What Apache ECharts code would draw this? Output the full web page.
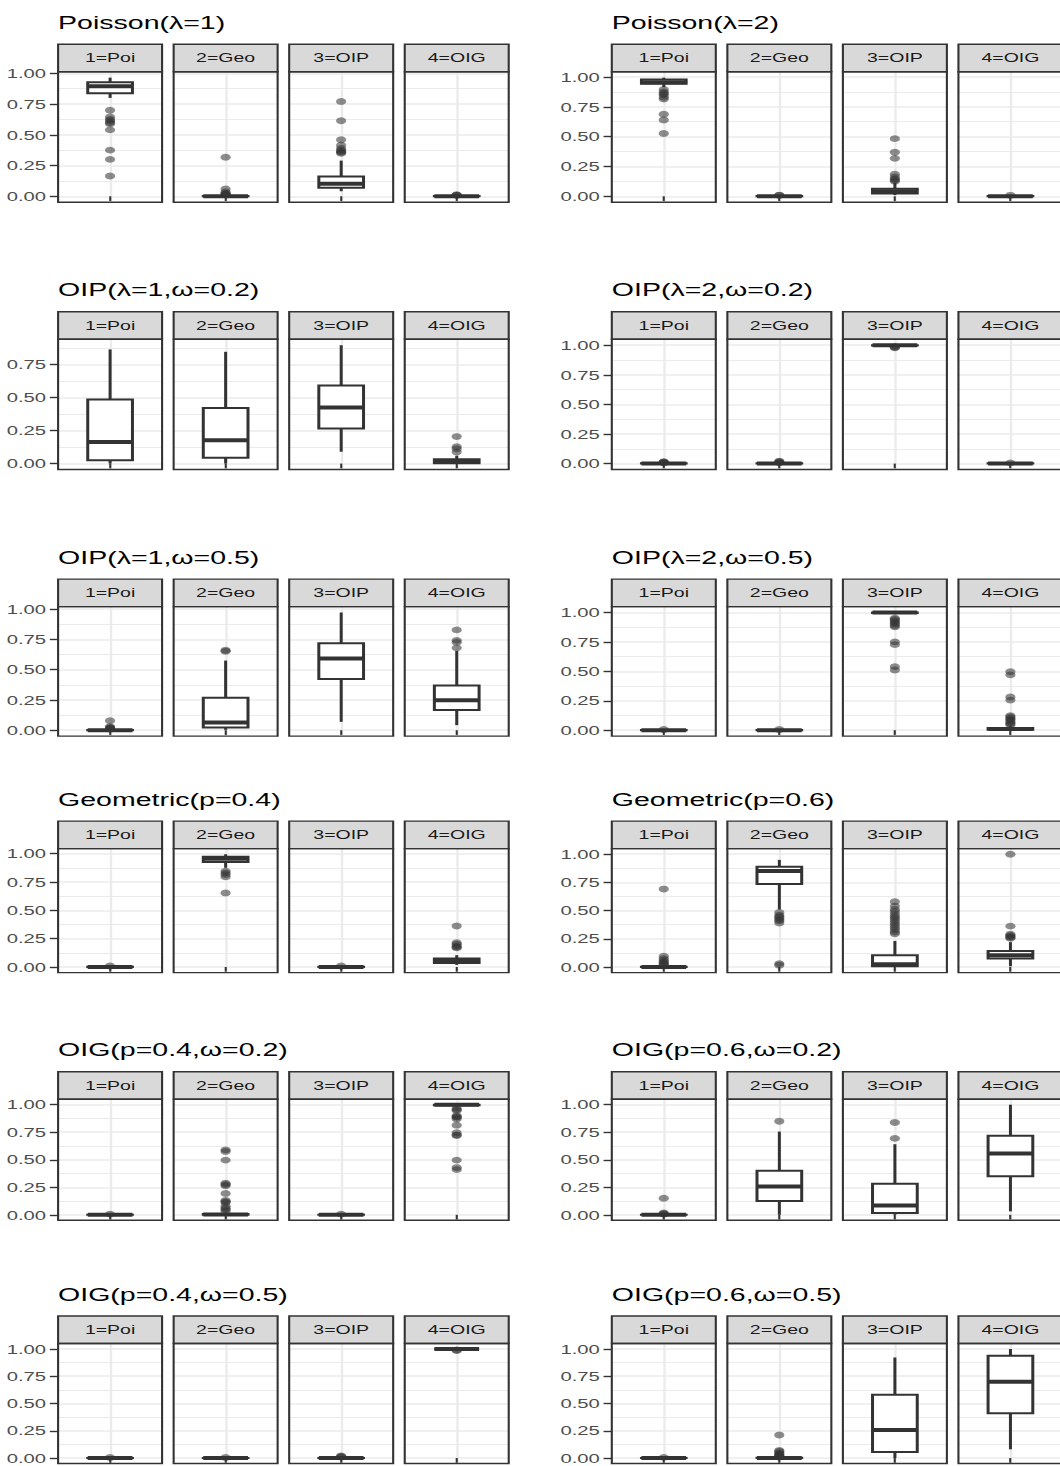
<!DOCTYPE html>
<html>
<head>
<meta charset="utf-8">
<title>Model selection proportions</title>
<script src="https://cdn.jsdelivr.net/npm/echarts@6/dist/echarts.min.js"></script>
<style>
  html, body { margin: 0; padding: 0; overflow: hidden; background: #fff; width: 1060px; height: 1466px; }
  /* the figure is laid out narrow and widened horizontally */
  #chart { width: 720px; height: 1480px; transform: scaleX(1.5); transform-origin: 0 0; }
</style>
</head>
<body>
<div id="chart"></div>
<script>
// ---------- data ----------
const facetLabels = ['1=Poi', '2=Geo', '3=OIP', '4=OIG'];
const plotTitles = [
  'Poisson(λ=1)', 'Poisson(λ=2)',
  'OIP(λ=1,ω=0.2)', 'OIP(λ=2,ω=0.2)',
  'OIP(λ=1,ω=0.5)', 'OIP(λ=2,ω=0.5)',
  'Geometric(p=0.4)', 'Geometric(p=0.6)',
  'OIG(p=0.4,ω=0.2)', 'OIG(p=0.6,ω=0.2)',
  'OIG(p=0.4,ω=0.5)', 'OIG(p=0.6,ω=0.5)'
];
const yTickValues = [0, 0.25, 0.5, 0.75, 1];

// box summaries per facet: [lower whisker, Q1, median, Q3, upper whisker]
const poisson1Box = [[0.80, 0.837, 0.895, 0.928, 0.965], [0, 0, 0, 0.003, 0.008], [0.041, 0.069, 0.102, 0.16, 0.29], [0, 0, 0, 0.002, 0.005]];
const poisson1Out = [[0.70, 0.645, 0.625, 0.615, 0.60, 0.59, 0.54, 0.375, 0.30, 0.165], [0.317, 0.06, 0.035, 0.025, 0.018, 0.014, 0.011], [0.771, 0.614, 0.46, 0.415, 0.39, 0.375, 0.365, 0.357, 0.35], [0.012, 0.009, 0.007]];

const poisson2Box = [[0.915, 0.943, 0.957, 0.98, 0.995], [0, 0, 0, 0.002, 0.006], [0.01, 0.023, 0.043, 0.0625, 0.114], [0, 0, 0, 0.002, 0.005]];
const poisson2Out = [[0.895, 0.875, 0.862, 0.85, 0.83, 0.815, 0.688, 0.64, 0.526], [0.01, 0.008], [0.483, 0.369, 0.318, 0.185, 0.162, 0.145, 0.136, 0.125], [0.008]];

const oip1w2Box = [[0, 0.026, 0.164, 0.486, 0.866], [0, 0.044, 0.177, 0.421, 0.848], [0.09, 0.267, 0.426, 0.593, 0.898], [0, 0.002, 0.012, 0.032, 0.06]];
const oip1w2Out = [[], [], [], [0.205, 0.128, 0.112, 0.088]];

const oip2w2Box = [[0, 0, 0, 0.002, 0.005], [0, 0, 0, 0.002, 0.005], [0.995, 0.998, 1, 1, 1], [0, 0, 0, 0.002, 0.004]];
const oip2w2Out = [[0.015, 0.012, 0.009, 0.007], [0.02, 0.015, 0.01, 0.008], [0.988, 0.983, 0.978], [0.006]];

const oip1w5Box = [[0, 0, 0, 0.002, 0.005], [0.003, 0.022, 0.064, 0.269, 0.575], [0.069, 0.422, 0.592, 0.717, 0.972], [0.042, 0.167, 0.247, 0.369, 0.655]];
const oip1w5Out = [[0.078, 0.03, 0.022, 0.016, 0.012, 0.009], [0.66, 0.652], [], [0.828, 0.742, 0.725, 0.68]];

const oip2w5Box = [[0, 0, 0, 0.001, 0.004], [0, 0, 0, 0.001, 0.004], [0.985, 0.995, 1, 1, 1], [0, 0.004, 0.01, 0.018, 0.035]];
const oip2w5Out = [[0.006], [0.006], [0.951, 0.94, 0.928, 0.915, 0.905, 0.89, 0.878, 0.75, 0.727, 0.54, 0.511], [0.497, 0.47, 0.282, 0.256, 0.123, 0.112, 0.1, 0.09, 0.078, 0.066, 0.055, 0.045]];

const geo4Box = [[0, 0, 0, 0.002, 0.005], [0.875, 0.926, 0.955, 0.973, 0.995], [0, 0, 0, 0.002, 0.005], [0.018, 0.036, 0.053, 0.074, 0.104]];
const geo4Out = [[0.008], [0.846, 0.83, 0.815, 0.795, 0.653], [0.008], [0.362, 0.214, 0.2, 0.184, 0.175, 0.168]];

const geo6Box = [[0, 0, 0, 0.002, 0.005], [0.51, 0.736, 0.852, 0.89, 0.95], [0, 0.006, 0.024, 0.104, 0.231], [0.006, 0.074, 0.104, 0.142, 0.22]];
const geo6Out = [[0.691, 0.095, 0.074, 0.059, 0.045, 0.036, 0.025, 0.015], [0.484, 0.46, 0.445, 0.436, 0.42, 0.41, 0.39, 0.03, 0.015], [0.579, 0.54, 0.51, 0.49, 0.465, 0.445, 0.43, 0.41, 0.39, 0.37, 0.35, 0.33, 0.31, 0.295], [1.0, 0.362, 0.29, 0.28, 0.27, 0.262, 0.255]];

const oig4w2Box = [[0, 0, 0, 0.001, 0.003], [0, 0, 0.003, 0.008, 0.02], [0, 0, 0, 0.001, 0.003], [0.985, 0.995, 1, 1, 1]];
const oig4w2Out = [[0.006], [0.59, 0.575, 0.497, 0.286, 0.275, 0.264, 0.193, 0.13, 0.12, 0.109, 0.078, 0.06, 0.047, 0.031], [0.006], [0.969, 0.955, 0.947, 0.9, 0.89, 0.885, 0.87, 0.814, 0.745, 0.725, 0.72, 0.497, 0.429, 0.41]];

const oig6w2Box = [[0, 0, 0, 0.001, 0.003], [0, 0.125, 0.256, 0.4, 0.756], [0, 0.016, 0.084, 0.281, 0.641], [0.031, 0.35, 0.556, 0.719, 1.0]];
const oig6w2Out = [[0.15, 0.016, 0.01, 0.006], [0.85], [0.838, 0.694], []];

const oig4w5Box = [[0, 0, 0, 0.001, 0.003], [0, 0, 0, 0.001, 0.003], [0, 0, 0, 0.001, 0.004], [0.997, 1, 1, 1, 1]];
const oig4w5Out = [[0.005], [0.005], [0.02, 0.014, 0.008], [0.985, 0.99]];

const oig6w5Box = [[0, 0, 0, 0.001, 0.003], [0, 0, 0, 0.002, 0.006], [0, 0.056, 0.258, 0.581, 0.922], [0.08, 0.41, 0.70, 0.938, 1.0]];
const oig6w5Out = [[0.006], [0.211, 0.07, 0.06, 0.047, 0.038, 0.031, 0.022, 0.016, 0.01], [], []];

const plotBoxes = [poisson1Box, poisson2Box, oip1w2Box, oip2w2Box, oip1w5Box, oip2w5Box, geo4Box, geo6Box, oig4w2Box, oig6w2Box, oig4w5Box, oig6w5Box];
const plotOutliers = [poisson1Out, poisson2Out, oip1w2Out, oip2w2Out, oip1w5Out, oip2w5Out, geo4Out, geo6Out, oig4w2Out, oig6w2Out, oig4w5Out, oig6w5Out];

// ---------- layout (px, before the horizontal widening) ----------
const COL_LEFT = [38.73, 407.87];
const FACET_STEP = 77.03;
const FACET_W = 69.33;
const PANEL_TOP = [71.7, 339.3, 606.6, 848.6, 1099.2, 1343.5];
const PANEL_BOTTOM = [202.2, 469.5, 736.1, 972.6, 1220.3, 1463.5];
const STRIP_H = 27.5;
const TITLE_GAP = 22;
const FONT = '"Liberation Sans", Arial, Helvetica, sans-serif';
const INK = '#333333';
const BOX_HALF = 0.43;   // half box width, in x-axis units (axis spans 0..2)
const BOX_LW = 2;
const MED_LW = 4;

function yRange(boxes, outs) {
  const all = boxes.flat().concat(outs.flat());
  const lo = Math.min(...all), hi = Math.max(...all);
  const pad = (hi - lo) * 0.05;
  return [lo - pad, hi + pad];
}

function renderBox(params, api) {
  const x = api.value(0);
  const lo = api.coord([x, api.value(1)]);
  const q1 = api.coord([x, api.value(2)]);
  const md = api.coord([x, api.value(3)]);
  const q3 = api.coord([x, api.value(4)]);
  const hi = api.coord([x, api.value(5)]);
  const half = api.size([BOX_HALF * 2, 0], [1, 0.5])[0] / 2;
  const cx = md[0];
  return {
    type: 'group',
    children: [
      { type: 'line', shape: { x1: cx, y1: q3[1], x2: cx, y2: hi[1] }, style: { stroke: INK, lineWidth: BOX_LW } },
      { type: 'line', shape: { x1: cx, y1: q1[1], x2: cx, y2: lo[1] }, style: { stroke: INK, lineWidth: BOX_LW } },
      { type: 'rect', shape: { x: cx - half, y: q3[1], width: half * 2, height: Math.max(q1[1] - q3[1], 0) },
        style: { fill: '#ffffff', stroke: INK, lineWidth: BOX_LW } },
      { type: 'line', shape: { x1: cx - half, y1: md[1], x2: cx + half, y2: md[1] }, style: { stroke: INK, lineWidth: MED_LW } }
    ]
  };
}

const grid = [], xAxis = [], yAxis = [], series = [], graphics = [];

plotTitles.forEach((title, p) => {
  const row = Math.floor(p / 2), col = p % 2;
  const top = PANEL_TOP[row], height = PANEL_BOTTOM[row] - PANEL_TOP[row];
  const [yMin, yMax] = yRange(plotBoxes[p], plotOutliers[p]);

  graphics.push({
    type: 'text', x: COL_LEFT[col], y: top - STRIP_H - TITLE_GAP, z: 60,
    style: { text: title, fill: '#000000', fontSize: 19, fontFamily: FONT,
             align: 'left', verticalAlign: 'middle', textAlign: 'left', textVerticalAlign: 'middle' }
  });

  facetLabels.forEach((label, k) => {
    const gi = grid.length;
    const left = COL_LEFT[col] + k * FACET_STEP;
    grid.push({ left: left, top: top, width: FACET_W, height: height, show: false, containLabel: false });

    xAxis.push({
      gridIndex: gi, type: 'value', min: 0, max: 2, interval: 1,
      axisLine: { show: false },
      axisLabel: { show: false },
      axisTick: { show: true, length: 4.7, customValues: [1], lineStyle: { color: INK, width: 1.4 } },
      splitLine: { show: true, lineStyle: { color: '#EBEBEB', width: 1.6 } }
    });

    yAxis.push({
      gridIndex: gi, type: 'value', min: yMin, max: yMax,
      minInterval: 0.25, maxInterval: 0.25,
      axisLine: { show: false },
      axisTick: { show: k === 0, length: 5.5, customValues: yTickValues, lineStyle: { color: INK, width: 1.4 } },
      axisLabel: { show: k === 0, customValues: yTickValues, margin: 8, color: '#4D4D4D', fontSize: 13.5, fontFamily: FONT,
                   formatter: v => Number(v).toFixed(2) },
      splitLine: { show: true, lineStyle: { color: '#EBEBEB', width: 1.6 } },
      minorTick: { show: false, splitNumber: 2 },
      minorSplitLine: { show: true, lineStyle: { color: '#EBEBEB', width: 0.8 } }
    });

    series.push({
      type: 'scatter', xAxisIndex: gi, yAxisIndex: gi, silent: true, z: 2,
      symbol: 'circle', symbolSize: 6.8,
      itemStyle: { color: 'rgba(51,51,51,0.7)' },
      data: plotOutliers[p][k].map(v => [1, v])
    });

    series.push({
      type: 'custom', xAxisIndex: gi, yAxisIndex: gi, silent: true, z: 3,
      encode: { x: 0, y: [1, 2, 3, 4, 5] },
      renderItem: renderBox,
      data: [[1].concat(plotBoxes[p][k])]
    });

    // facet strip and panel border
    graphics.push({
      type: 'rect', x: left, y: top - STRIP_H, z: 50,
      shape: { x: 0, y: 0, width: FACET_W, height: STRIP_H },
      style: { fill: '#D9D9D9', stroke: INK, lineWidth: 1.4 }
    });
    graphics.push({
      type: 'text', x: left + FACET_W / 2, y: top - STRIP_H / 2, z: 60,
      style: { text: label, fill: '#1A1A1A', fontSize: 13, fontFamily: FONT,
               align: 'center', verticalAlign: 'middle', textAlign: 'center', textVerticalAlign: 'middle' }
    });
    graphics.push({
      type: 'rect', x: left, y: top, z: 50,
      shape: { x: 0, y: 0, width: FACET_W, height: height },
      style: { fill: 'none', stroke: INK, lineWidth: 1.4 }
    });
  });
});

const chart = echarts.init(document.getElementById('chart'), null, { renderer: 'svg' });
chart.setOption({
  animation: false,
  backgroundColor: '#ffffff',
  grid: grid,
  xAxis: xAxis,
  yAxis: yAxis,
  series: series,
  graphic: { elements: graphics }
});
</script>
</body>
</html>
